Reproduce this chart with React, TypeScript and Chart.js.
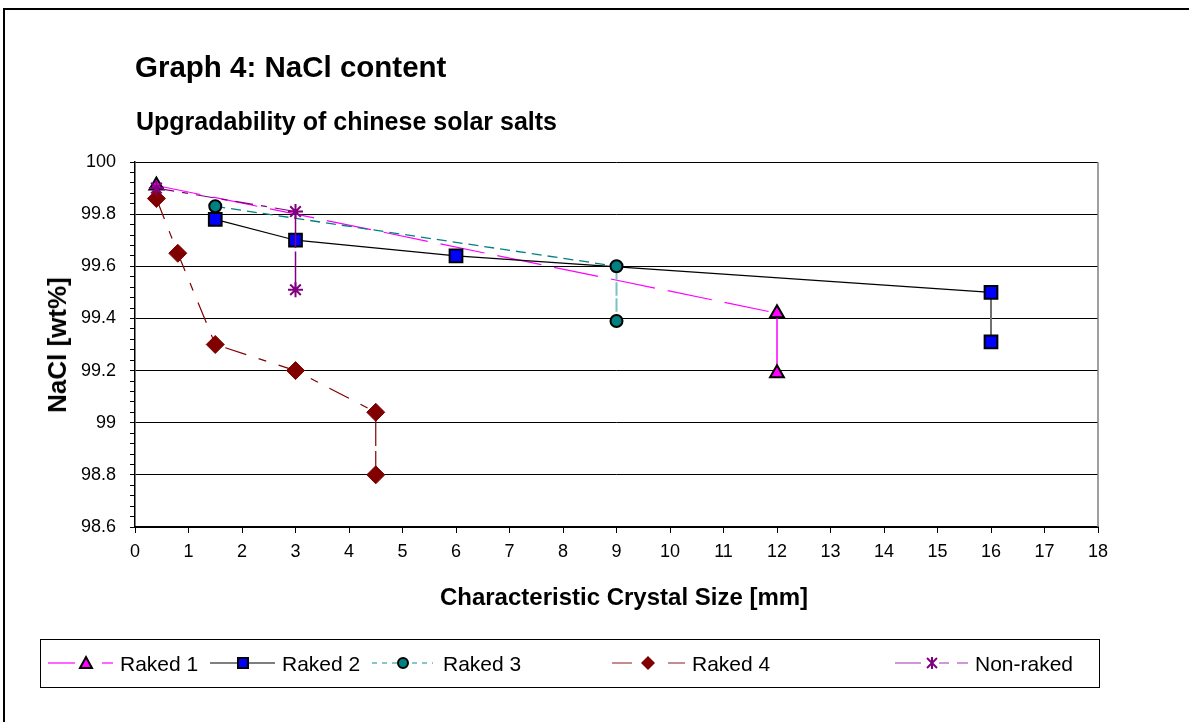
import React, { useEffect, useRef } from "react";
import { Chart, registerables } from "chart.js";

Chart.register(...registerables);

// ---------- data ----------
const raked1X = [0.4, 12, 12];
const raked1Y = [99.91, 99.42, 99.19];
const raked2X = [1.5, 3, 6, 16, 16];
const raked2Y = [99.78, 99.7, 99.64, 99.5, 99.31];
const raked3X = [1.5, 9, 9];
const raked3Y = [99.83, 99.6, 99.39];
const raked4X = [0.4, 0.8, 1.5, 3, 4.5, 4.5];
const raked4Y = [99.86, 99.65, 99.3, 99.2, 99.04, 98.8];
const nonRakedX = [0.4, 3, 3];
const nonRakedY = [99.9, 99.81, 99.51];

const seriesNames = ["Raked 1", "Raked 2", "Raked 3", "Raked 4", "Non-raked"];
const yMajorTicks = [98.6, 98.8, 99, 99.2, 99.4, 99.6, 99.8, 100];
const yTickLabels = ["98.6", "98.8", "99", "99.2", "99.4", "99.6", "99.8", "100"];
const xTickMin = 0;
const xTickMax = 18;

const FONT = "'Liberation Sans', Arial, Helvetica, sans-serif";

const toPts = (xs: number[], ys: number[]) => xs.map((x, i) => ({ x, y: ys[i] }));

function segStyle(
  n: number,
  mainColor: string,
  lastColor: string,
  mainDash: number[],
  lastDash: number[],
  mainW: number,
  lastW: number
) {
  return {
    borderColor: (c: any) => (c.p1DataIndex === n - 1 ? lastColor : mainColor),
    borderDash: (c: any) => (c.p1DataIndex === n - 1 ? lastDash : mainDash),
    borderWidth: (c: any) => (c.p1DataIndex === n - 1 ? lastW : mainW),
  };
}

const plotFrame = {
  id: "plotFrame",
  beforeDatasetsDraw(chart: any) {
    const { ctx, chartArea } = chart;
    ctx.save();
    ctx.strokeStyle = "#808080";
    ctx.lineWidth = 1.5;
    ctx.beginPath();
    ctx.moveTo(chartArea.right, chartArea.top);
    ctx.lineTo(chartArea.right, chartArea.bottom);
    ctx.stroke();
    ctx.restore();
  },
};

const isMajor = (v: number) => yMajorTicks.some((m) => Math.abs(m - v) < 1e-6);

function LegendSample({ left, children }: { left: number; children: React.ReactNode }) {
  return (
    <svg
      width={90}
      height={24}
      style={{ position: "absolute", left, top: 651 }}
      viewBox={`0 0 90 24`}
    >
      {children}
    </svg>
  );
}

export default function App() {
  const ref = useRef<HTMLCanvasElement | null>(null);

  useEffect(() => {
    if (!ref.current) return;
    const chart = new Chart(ref.current, {
      type: "line",
      data: {
        datasets: [
          {
            label: seriesNames[0],
            data: toPts(raked1X, raked1Y),
            borderColor: "#FF00FF",
            borderWidth: 1.2,
            segment: segStyle(raked1X.length, "#FF00FF", "#FF00FF", [45, 13], [], 1.2, 1.5),
            pointStyle: "triangle",
            pointRadius: 8,
            pointBackgroundColor: "#FF00FF",
            pointBorderColor: "#000",
            pointBorderWidth: 2,
            order: 4,
          },
          {
            label: seriesNames[1],
            data: toPts(raked2X, raked2Y),
            borderColor: "#000",
            borderWidth: 1.2,
            segment: segStyle(raked2X.length, "#000", "#707070", [], [], 1.2, 2),
            pointStyle: "rect",
            pointRadius: 9,
            pointBackgroundColor: "#0000FF",
            pointBorderColor: "#000",
            pointBorderWidth: 2,
            order: 3,
          },
          {
            label: seriesNames[2],
            data: toPts(raked3X, raked3Y),
            borderColor: "#008080",
            borderWidth: 1.3,
            segment: segStyle(raked3X.length, "#008080", "#7FBFBF", [10, 6], [7, 9], 1.3, 2),
            pointStyle: "circle",
            pointRadius: 6,
            pointBackgroundColor: "#008080",
            pointBorderColor: "#000",
            pointBorderWidth: 2,
            order: 2,
          },
          {
            label: seriesNames[3],
            data: toPts(raked4X, raked4Y),
            borderColor: "#800000",
            borderWidth: 1.2,
            segment: segStyle(
              raked4X.length,
              "#800000",
              "#800000",
              [22, 13, 8, 13],
              [22, 13, 8, 13],
              1.2,
              1.2
            ),
            pointStyle: "rectRot",
            pointRadius: 9,
            pointBackgroundColor: "#800000",
            pointBorderColor: "#800000",
            pointBorderWidth: 1,
            order: 1,
          },
          {
            label: seriesNames[4],
            data: toPts(nonRakedX, nonRakedY),
            borderColor: "#800080",
            borderWidth: 1.2,
            segment: segStyle(
              nonRakedX.length,
              "#800080",
              "#800080",
              [18, 8, 6, 8],
              [18, 8, 6, 8],
              1.2,
              1.5
            ),
            pointStyle: "star",
            pointRadius: 7.5,
            pointBackgroundColor: "#800080",
            pointBorderColor: "#800080",
            pointBorderWidth: 2,
            order: 0,
          },
        ],
      },
      options: {
        responsive: false,
        animation: false,
        events: [],
        layout: { padding: { left: 60, top: 162, right: 91, bottom: 135 } },
        plugins: {
          legend: { display: false },
          title: { display: false },
          tooltip: { enabled: false },
        },
        scales: {
          x: {
            type: "linear",
            min: xTickMin,
            max: xTickMax,
            afterFit: (s: any) => {
              s.height = 60;
            },
            ticks: {
              stepSize: 1,
              autoSkip: false,
              maxRotation: 0,
              padding: 8,
              color: "#000",
              font: { family: FONT, size: 18 },
            },
            grid: {
              drawOnChartArea: false,
              tickLength: 6,
              tickColor: "#000",
              tickWidth: 1,
            },
            border: { color: "#000", width: 2 },
          },
          y: {
            type: "linear",
            min: yMajorTicks[0],
            max: yMajorTicks[yMajorTicks.length - 1],
            afterFit: (s: any) => {
              s.width = 75;
            },
            afterBuildTicks: (s: any) => {
              const ticks: { value: number }[] = [];
              for (let i = 0; i < yMajorTicks.length; i++) {
                ticks.push({ value: yMajorTicks[i] });
                if (i < yMajorTicks.length - 1) {
                  const a = yMajorTicks[i];
                  const b = yMajorTicks[i + 1];
                  for (let k = 1; k < 5; k++) ticks.push({ value: a + ((b - a) * k) / 5 });
                }
              }
              s.ticks = ticks;
            },
            ticks: {
              autoSkip: false,
              padding: 14,
              color: "#000",
              font: { family: FONT, size: 18 },
              callback: (v: any) => {
                const idx = yMajorTicks.findIndex((m) => Math.abs(m - Number(v)) < 1e-6);
                return idx >= 0 ? yTickLabels[idx] : "";
              },
            },
            grid: {
              color: (c: any) => (c.tick && isMajor(c.tick.value) ? "#000" : "rgba(0,0,0,0)"),
              lineWidth: 1,
              tickLength: 5,
              tickColor: "#000",
              tickWidth: 1,
            },
            border: { color: "#000", width: 1.5 },
          },
        },
      },
      plugins: [plotFrame],
    });
    return () => chart.destroy();
  }, []);

  const textBase: React.CSSProperties = {
    position: "absolute",
    fontFamily: FONT,
    color: "#000",
    lineHeight: 1,
    whiteSpace: "nowrap",
    margin: 0,
  };

  return (
    <div
      style={{
        position: "absolute",
        left: 0,
        top: 0,
        width: 1189,
        height: 722,
        overflow: "hidden",
        background: "#fff",
      }}
    >
      <div
        style={{
          position: "absolute",
          left: 3,
          top: 8,
          width: 1200,
          height: 740,
          borderTop: "2px solid #000",
          borderLeft: "2px solid #000",
        }}
      />
      <canvas
        ref={ref}
        width={1189}
        height={722}
        style={{ position: "absolute", left: 0, top: 0, width: 1189, height: 722 }}
      />
      <div style={{ ...textBase, left: 135, top: 52, fontSize: 29.5, fontWeight: "bold" }}>
        Graph 4: NaCl content
      </div>
      <div style={{ ...textBase, left: 136, top: 109, fontSize: 25, fontWeight: "bold" }}>
        Upgradability of chinese solar salts
      </div>
      <div
        style={{
          ...textBase,
          left: 57,
          top: 345,
          fontSize: 26,
          fontWeight: "bold",
          transform: "translate(-50%, -50%) rotate(-90deg)",
        }}
      >
        NaCl [wt%]
      </div>
      <div
        style={{
          ...textBase,
          left: 624,
          top: 585,
          fontSize: 24,
          fontWeight: "bold",
          transform: "translateX(-50%)",
        }}
      >
        Characteristic Crystal Size [mm]
      </div>

      {/* legend */}
      <div
        style={{
          position: "absolute",
          left: 40,
          top: 639,
          width: 1060,
          height: 49,
          border: "1px solid #000",
          boxSizing: "border-box",
        }}
      />
      <LegendSample left={45}>
        <line x1={3} y1={12} x2={30} y2={12} stroke="#FF00FF" strokeWidth={1.2} />
        <line x1={57} y1={12} x2={68} y2={12} stroke="#FF00FF" strokeWidth={1.2} />
        <polygon points="35,17 41,6 47,17" fill="#FF00FF" stroke="#000" strokeWidth={2} />
      </LegendSample>
      <div style={{ ...textBase, left: 120, top: 653, fontSize: 21 }}>{seriesNames[0]}</div>

      <LegendSample left={205}>
        <line x1={5} y1={12} x2={70} y2={12} stroke="#000" strokeWidth={1.2} />
        <rect x={33} y={7} width={10} height={10} fill="#0000FF" stroke="#000" strokeWidth={2} />
      </LegendSample>
      <div style={{ ...textBase, left: 282, top: 653, fontSize: 21 }}>{seriesNames[1]}</div>

      <LegendSample left={367}>
        <line
          x1={5}
          y1={12}
          x2={66}
          y2={12}
          stroke="#66B2B2"
          strokeWidth={1.5}
          strokeDasharray="5 5"
        />
        <circle cx={36} cy={12} r={5} fill="#008080" stroke="#000" strokeWidth={2} />
      </LegendSample>
      <div style={{ ...textBase, left: 443, top: 653, fontSize: 21 }}>{seriesNames[2]}</div>

      <LegendSample left={607}>
        <line x1={5} y1={12} x2={25} y2={12} stroke="#A04040" strokeWidth={1.2} />
        <line x1={61} y1={12} x2={78} y2={12} stroke="#A04040" strokeWidth={1.2} />
        <polygon points="41,5 48,12 41,19 34,12" fill="#800000" />
      </LegendSample>
      <div style={{ ...textBase, left: 692, top: 653, fontSize: 21 }}>{seriesNames[3]}</div>

      <LegendSample left={890}>
        <line x1={5} y1={12} x2={31} y2={12} stroke="#B050C0" strokeWidth={1.2} />
        <line x1={49} y1={12} x2={59} y2={12} stroke="#B050C0" strokeWidth={1.2} />
        <line x1={67} y1={12} x2={78} y2={12} stroke="#B050C0" strokeWidth={1.2} />
        <g stroke="#800080" strokeWidth={2}>
          <line x1={42} y1={6} x2={42} y2={18} />
          <line x1={37} y1={7} x2={47} y2={17} />
          <line x1={47} y1={7} x2={37} y2={17} />
        </g>
      </LegendSample>
      <div style={{ ...textBase, left: 975, top: 653, fontSize: 21 }}>{seriesNames[4]}</div>
    </div>
  );
}
